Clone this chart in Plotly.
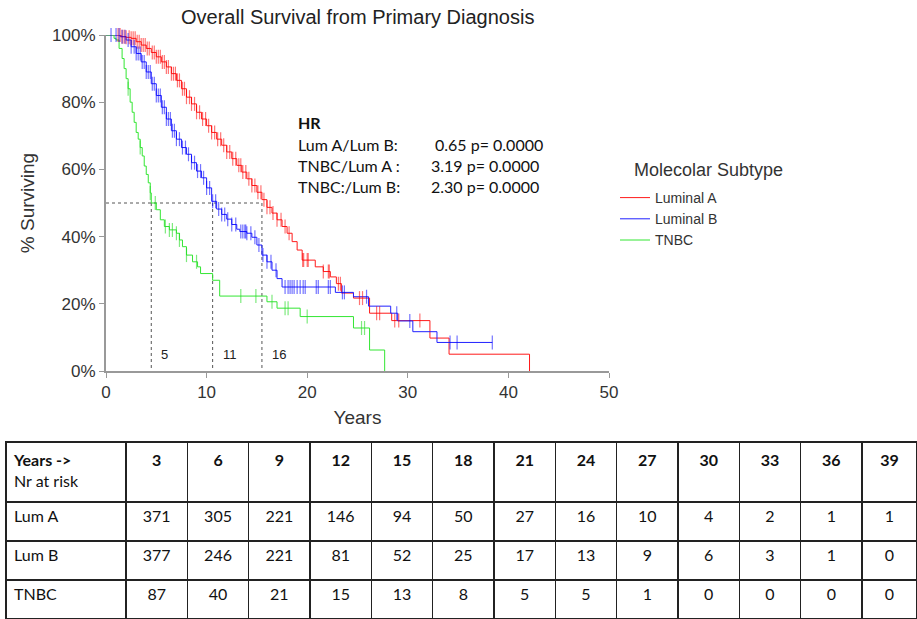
import numpy as np
import plotly.graph_objects as go

W, H = 917, 619

# ---- Kaplan-Meier step data (event time in years, survival after event)
luma_t = [1.5, 2.0, 2.5, 3.0, 3.5, 4.0, 4.5, 5.0, 5.5, 6.0, 6.5, 7.0, 7.5, 8.0, 8.5, 9.0, 9.5,
          10.0, 10.5, 11.0, 11.5, 12.0, 12.5, 13.0, 13.5, 14.0, 14.5, 15.0, 15.5, 16.0, 16.5,
          17.0, 17.5, 18.0, 18.5, 19.0, 19.5, 20.8, 21.6, 22.3, 22.9, 23.4, 24.6, 26.2, 28.4,
          32.2, 34.1, 42.1]
luma_s = [0.995, 0.993, 0.99, 0.98, 0.97, 0.96, 0.948, 0.935, 0.92, 0.905, 0.885, 0.865, 0.84,
          0.815, 0.795, 0.77, 0.75, 0.73, 0.71, 0.69, 0.672, 0.652, 0.632, 0.612, 0.592, 0.572,
          0.552, 0.532, 0.51, 0.487, 0.47, 0.45, 0.43, 0.41, 0.385, 0.36, 0.33, 0.31, 0.296,
          0.28, 0.26, 0.232, 0.217, 0.172, 0.15, 0.098, 0.05, 0.0]
luma_end = 42.1

lumb_t = [1.4, 2.0, 2.5, 3.0, 3.5, 4.0, 4.5, 5.0, 5.5, 6.0, 6.5, 7.0, 7.5, 8.0, 8.5, 9.0, 9.5,
          10.0, 10.5, 11.0, 11.5, 12.0, 12.5, 13.0, 13.3, 14.0, 14.5, 15.0, 15.5, 16.0, 16.5,
          17.0, 17.5, 22.8, 24.6, 26.1, 28.3, 29.0, 30.5, 32.9]
lumb_s = [0.995, 0.985, 0.965, 0.945, 0.92, 0.89, 0.855, 0.82, 0.785, 0.75, 0.715, 0.69, 0.665,
          0.645, 0.62, 0.595, 0.575, 0.545, 0.505, 0.482, 0.466, 0.452, 0.436, 0.422, 0.415, 0.41,
          0.398, 0.375, 0.345, 0.325, 0.30, 0.275, 0.25, 0.234, 0.221, 0.193, 0.172, 0.149,
          0.117, 0.085]
lumb_end = 38.4

tnbc_t = [0.8, 1.0, 1.3, 1.6, 1.8, 2.0, 2.2, 2.4, 2.6, 2.8, 3.0, 3.2, 3.4, 3.6, 3.8, 4.0, 4.2,
          4.4, 4.5, 5.0, 5.4, 5.8, 6.3, 7.0, 7.3, 7.6, 8.0, 8.6, 9.1, 9.4, 10.6, 11.3, 16.0,
          17.0, 19.3, 24.6, 26.2, 27.7]
tnbc_s = [0.99, 0.985, 0.96, 0.93, 0.90, 0.87, 0.84, 0.80, 0.77, 0.74, 0.71, 0.69, 0.665, 0.64,
          0.61, 0.585, 0.56, 0.53, 0.50, 0.48, 0.45, 0.43, 0.42, 0.41, 0.39, 0.37, 0.345, 0.325,
          0.31, 0.29, 0.27, 0.223, 0.206, 0.187, 0.162, 0.128, 0.0625, 0.0]
tnbc_end = 27.7

# censored observations (years)
luma_cens = [1.2, 1.4, 1.6, 1.8, 2.0, 2.3, 2.5, 2.7, 2.9, 3.1, 3.3, 3.5, 3.7, 3.9, 4.1, 4.3, 4.6,
             4.8, 5.0, 5.2, 5.4, 5.6, 5.8, 6.0, 6.2, 6.5, 6.7, 6.9, 7.1, 7.3, 7.6, 7.8, 8.0, 8.3,
             8.5, 8.8, 9.0, 9.3, 9.6, 9.9, 10.2, 10.5, 10.8, 11.1, 11.4, 11.7, 12.0, 12.3, 12.6,
             12.9, 13.2, 13.4, 13.6, 13.9, 14.2, 14.5, 14.8, 15.1, 15.4, 15.7, 16.0, 16.3, 16.6,
             17.0, 17.4, 17.8, 18.2, 19.55, 19.65, 20.0, 20.1, 21.6, 22.1, 22.2, 23.1, 23.3,
             25.2, 25.5, 26.9, 27.2, 28.7, 29.1, 31.2]
lumb_cens = [0.5, 1.0, 1.3, 1.6, 1.9, 2.2, 2.5, 2.8, 3.0, 3.2, 3.4, 3.6, 3.8, 4.0, 4.2, 4.4, 4.6,
             4.8, 5.0, 5.2, 5.4, 5.6, 5.8, 6.0, 6.2, 6.4, 6.6, 6.8, 7.0, 7.3, 7.6, 7.9, 8.2, 8.5,
             8.8, 9.1, 9.4, 9.7, 10.0, 10.3, 10.6, 10.9, 11.2, 11.5, 11.8, 12.1, 12.5, 12.9, 13.4,
             13.6, 13.8, 13.9, 14.0, 14.4, 14.8, 15.2, 15.6, 16.0, 16.4, 16.9, 17.8, 18.1, 18.3,
             18.5, 18.7, 19.0, 19.3, 19.6, 19.8, 20.9, 21.1, 22.1, 22.3, 23.5, 23.7, 25.9, 28.9,
             30.2, 34.2, 34.9, 38.4]
tnbc_cens = [2.2, 3.4, 4.4, 4.9, 5.9, 6.3, 6.6, 7.0, 7.3, 8.0, 9.0, 13.4, 14.9, 16.5, 17.8, 18.1,
             20.0, 25.4, 25.7]

series_names = ["Luminal A", "Luminal B", "TNBC"]
line_colors = ["#ff1a1a", "#2020ff", "#33e633"]
tick_colors = ["rgba(255,0,0,0.55)", "rgba(0,0,255,0.55)", "rgba(40,220,40,0.6)"]

# medians
median_years = [15.5, 10.6, 4.5]
median_labels = ["16", "11", "5"]

# hazard ratios
hr_labels = ["Lum A/Lum B:", "TNBC/Lum A :", "TNBC:/Lum B:"]
hr_values = ["0.65", "3.19", "2.30"]
hr_pvalues = ["0.0000", "0.0000", "0.0000"]

# numbers at risk
risk_years = [3, 6, 9, 12, 15, 18, 21, 24, 27, 30, 33, 36, 39]
risk_luma = [371, 305, 221, 146, 94, 50, 27, 16, 10, 4, 2, 1, 1]
risk_lumb = [377, 246, 221, 81, 52, 25, 17, 13, 9, 6, 3, 1, 0]
risk_tnbc = [87, 40, 21, 15, 13, 8, 5, 5, 1, 0, 0, 0, 0]
risk_rows = ["Lum A", "Lum B", "TNBC"]


def px(x):
    return x / W


def py(y):
    return 1 - y / H


def surv_at(ts, ss, t):
    i = np.searchsorted(np.array(ts), t, side="right") - 1
    return 1.0 if i < 0 else ss[i]


fig = go.Figure()

curves = [(luma_t, luma_s, luma_end, luma_cens),
          (lumb_t, lumb_s, lumb_end, lumb_cens),
          (tnbc_t, tnbc_s, tnbc_end, tnbc_cens)]

# dotted median lines
mx, my = [0, max(median_years)], [0.5, 0.5]
for m in median_years:
    mx += [None, m, m]
    my += [None, 0.5, 0]
fig.add_trace(go.Scatter(x=mx, y=my, mode="lines", line=dict(color="#555555", width=1, dash="dot"),
                         showlegend=False, hoverinfo="skip"))

for (ts, ss, tend, cens), name, lc, tc in zip(curves, series_names, line_colors, tick_colors):
    xs = [0] + list(ts) + [tend]
    ys = [1.0] + list(ss) + [ss[-1]]
    fig.add_trace(go.Scatter(x=xs, y=ys, mode="lines", line=dict(color=lc, width=1, shape="hv"),
                             name=name, cliponaxis=False))

for (ts, ss, tend, cens), name, lc, tc in zip(curves, series_names, line_colors, tick_colors):
    cy = [surv_at(ts, ss, c) for c in cens]
    fig.add_trace(go.Scatter(x=cens, y=cy, mode="markers",
                             marker=dict(symbol="line-ns", size=10, line=dict(color=tc, width=1.2)),
                             showlegend=False, cliponaxis=False, hoverinfo="skip"))

annotations = []
for m, lab in zip(median_years, median_labels):
    annotations.append(dict(x=m + 0.8, y=0.048, xref="x", yref="y", text=lab, showarrow=False,
                            xanchor="left", yanchor="middle",
                            font=dict(family="Liberation Sans, Arial", size=13, color="#222")))

hr_font = dict(family="Lato, Carlito, sans-serif", size=16, color="#111")
annotations.append(dict(x=px(296), y=py(123), xref="paper", yref="paper", text="<b>HR</b>",
                        showarrow=False, xanchor="left", yanchor="middle", font=hr_font))
for i, (lab, v, p) in enumerate(zip(hr_labels, hr_values, hr_pvalues)):
    yy = py(145 + 21 * i)
    annotations.append(dict(x=px(296), y=yy, xref="paper", yref="paper", text=lab,
                            showarrow=False, xanchor="left", yanchor="middle", font=hr_font))
    annotations.append(dict(x=px(433 if i == 0 else 429), y=yy, xref="paper", yref="paper",
                            text=f"{v} p= {p}", showarrow=False, xanchor="left",
                            yanchor="middle", font=hr_font))

annotations.append(dict(x=px(357), y=py(17), xref="paper", yref="paper",
                        text="Overall Survival from Primary Diagnosis", showarrow=False,
                        xanchor="center", yanchor="middle",
                        font=dict(family="Liberation Sans, Arial", size=20, color="#222")))

# legend title placed as its own text
annotations.append(dict(x=px(632), y=py(170), xref="paper", yref="paper",
                        text="Molecolar Subtype", showarrow=False, xanchor="left",
                        yanchor="middle",
                        font=dict(family="Liberation Sans, Arial", size=18, color="#333")))

# table of numbers at risk
header_vals = ["<b>Years -></b><br>Nr at risk"] + [f"<b>{y}</b>" for y in risk_years]
cell_vals = [risk_rows] + [[a, b, c] for a, b, c in zip(risk_luma, risk_lumb, risk_tnbc)]
colw = [120] + [61.3] * 12 + [55]
tbl_font = dict(family="Lato, Carlito, sans-serif", size=16, color="#111")
fig.add_trace(go.Table(
    domain=dict(x=[px(6), 1], y=[0, py(442)]),
    columnwidth=colw,
    header=dict(values=header_vals, height=60, align=["left"] + ["center"] * 13,
                line=dict(color="#222", width=1.5), fill=dict(color="white"), font=tbl_font),
    cells=dict(values=cell_vals, height=39, align=["left"] + ["center"] * 13,
               line=dict(color="#222", width=1.5), fill=dict(color="white"), font=tbl_font),
))

axis_font = dict(family="Liberation Sans, Arial", size=17, color="#333")
title_font = dict(family="Liberation Sans, Arial", size=19, color="#333")
fig.update_layout(
    width=W, height=H,
    margin=dict(l=0, r=0, t=0, b=0, autoexpand=False),
    paper_bgcolor="white", plot_bgcolor="white",
    font=dict(family="Liberation Sans, Arial", color="#333"),
    xaxis=dict(domain=[px(106), px(609)], range=[0, 50], dtick=10, showgrid=False, zeroline=False,
               showline=True, linecolor="#999", linewidth=2, ticks="outside", ticklen=5,
               tickcolor="#999", tickfont=axis_font, automargin=False,
               title=dict(text="Years", font=title_font, standoff=9)),
    yaxis=dict(domain=[py(371), py(35)], range=[0, 1], dtick=0.2, tickformat=".0%",
               showgrid=False, zeroline=False, showline=True, linecolor="#999", linewidth=2,
               ticks="outside", ticklen=5, tickcolor="#999", tickfont=axis_font, automargin=False,
               title=dict(text="% Surviving", font=title_font, standoff=12)),
    legend=dict(x=px(615), y=py(182), xanchor="left", yanchor="top",
                font=dict(family="Liberation Sans, Arial", size=14, color="#333"),
                bgcolor="rgba(0,0,0,0)", itemwidth=30, tracegroupgap=2),
    annotations=annotations,
    showlegend=True,
)

fig.write_html("out.html", config={"displayModeBar": False},
               post_script="document.body.style.margin='0';document.body.style.overflow='hidden';")
